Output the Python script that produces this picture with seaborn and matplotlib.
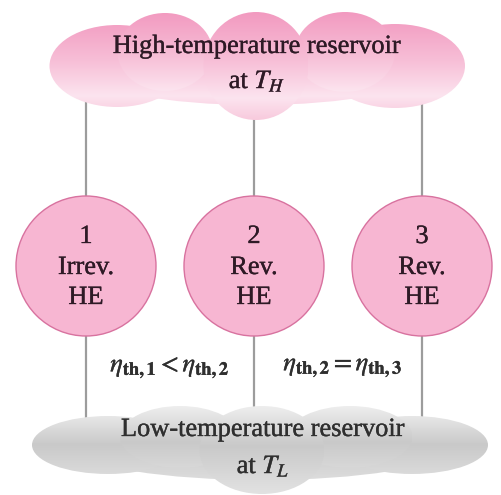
import numpy as np
import matplotlib
matplotlib.use("Agg")
import matplotlib.pyplot as plt
import matplotlib.patheffects as pe
from matplotlib.patches import Ellipse, Circle
from matplotlib.colors import to_rgb
import seaborn as sns

# diagram content
engine_ids = ["1", "2", "3"]
engine_kinds = ["Irrev.", "Rev.", "Rev."]
hot_label = ["High-temperature reservoir", "at $T_H$"]
cold_label = ["Low-temperature reservoir", "at $T_L$"]
relations = [r"$\eta_{\mathbf{th,1}} < \eta_{\mathbf{th,2}}$",
             r"$\eta_{\mathbf{th,2}} = \eta_{\mathbf{th,3}}$"]

engine_x = [86, 254, 422]
engine_y = 266
engine_r = 70

# cloud lobes: (cx, cy, w, h)
hot_lobes = [(256, 72, 330, 66), (117, 66, 135, 82), (395, 66, 140, 84),
             (165, 52, 95, 78), (345, 52, 100, 80), (256, 66, 105, 108)]
cold_lobes = [(262, 450, 360, 60), (108, 445, 152, 58), (412, 445, 152, 58),
              (180, 437, 120, 62), (350, 437, 125, 62), (262, 450, 125, 88)]

sns.set_theme(style="white")
plt.rcParams["font.family"] = ["Liberation Serif", "DejaVu Serif"]
plt.rcParams["mathtext.fontset"] = "stix"

fig = plt.figure(figsize=(5.01, 4.95), dpi=100)
ax = fig.add_axes([0, 0, 1, 1])
ax.set_axis_off()


def cloud(lobes, stops, z):
    pos = np.array([s[0] for s in stops])
    cols = np.array([to_rgb(s[1]) for s in stops])
    top = min(cy - h / 2 for cx, cy, w, h in lobes)
    bot = max(cy + h / 2 for cx, cy, w, h in lobes)
    for cx, cy, w, h in lobes:
        ys = np.linspace(cy - h / 2, cy + h / 2, 120)
        t = 0.75 * (ys - top) / (bot - top) + 0.25 * (ys - ys[0]) / h
        rgb = np.stack([np.interp(t, pos, cols[:, k]) for k in range(3)], axis=1)
        e = Ellipse((cx, cy), w, h, facecolor="none", edgecolor="none")
        ax.add_patch(e)
        im = ax.imshow(rgb[:, None, :], extent=(cx - w / 2, cx + w / 2, cy + h / 2, cy - h / 2),
                       origin="upper", aspect="auto", zorder=z, interpolation="bilinear")
        im.set_clip_path(e)


# connectors
ax.vlines(engine_x, 100, 418, color="#9c9c9c", lw=1.6, zorder=1)

cloud(hot_lobes, [(0, "#f29ac0"), (0.45, "#f7bfd7"), (0.8, "#fce4ef"), (1, "#f8cadd")], 2)
cloud(cold_lobes, [(0, "#eeeeee"), (0.45, "#c9c9c9"), (1, "#e2e2e2")], 2)

bold = [pe.withStroke(linewidth=0.25, foreground="#2e1a26")]
txt = dict(ha="center", va="center", fontsize=19, color="#2e1a26", zorder=5,
           path_effects=bold)
for i, x in enumerate(engine_x):
    ax.add_patch(Circle((x, engine_y), engine_r, facecolor="#f7b6d2",
                        edgecolor="#d8729f", lw=1.0, zorder=3))
    ax.text(x, engine_y - 29, engine_ids[i], **txt)
    ax.text(x, engine_y + 2, engine_kinds[i], **txt)
    ax.text(x, engine_y + 32, "HE", **txt)

grey = dict(txt, color="#2f2f2f",
            path_effects=[pe.withStroke(linewidth=0.25, foreground="#2f2f2f")])
ax.text(257, 47, hot_label[0], **txt)
ax.text(257, 81, hot_label[1], **txt)
ax.text(263, 430, cold_label[0], **grey)
ax.text(263, 466, cold_label[1], **grey)

ax.text(170, 368, relations[0], **grey)
ax.text(343, 368, relations[1], **grey)

ax.set_xlim(0, 501)
ax.set_ylim(495, 0)
fig.savefig("out.png", dpi=100)
